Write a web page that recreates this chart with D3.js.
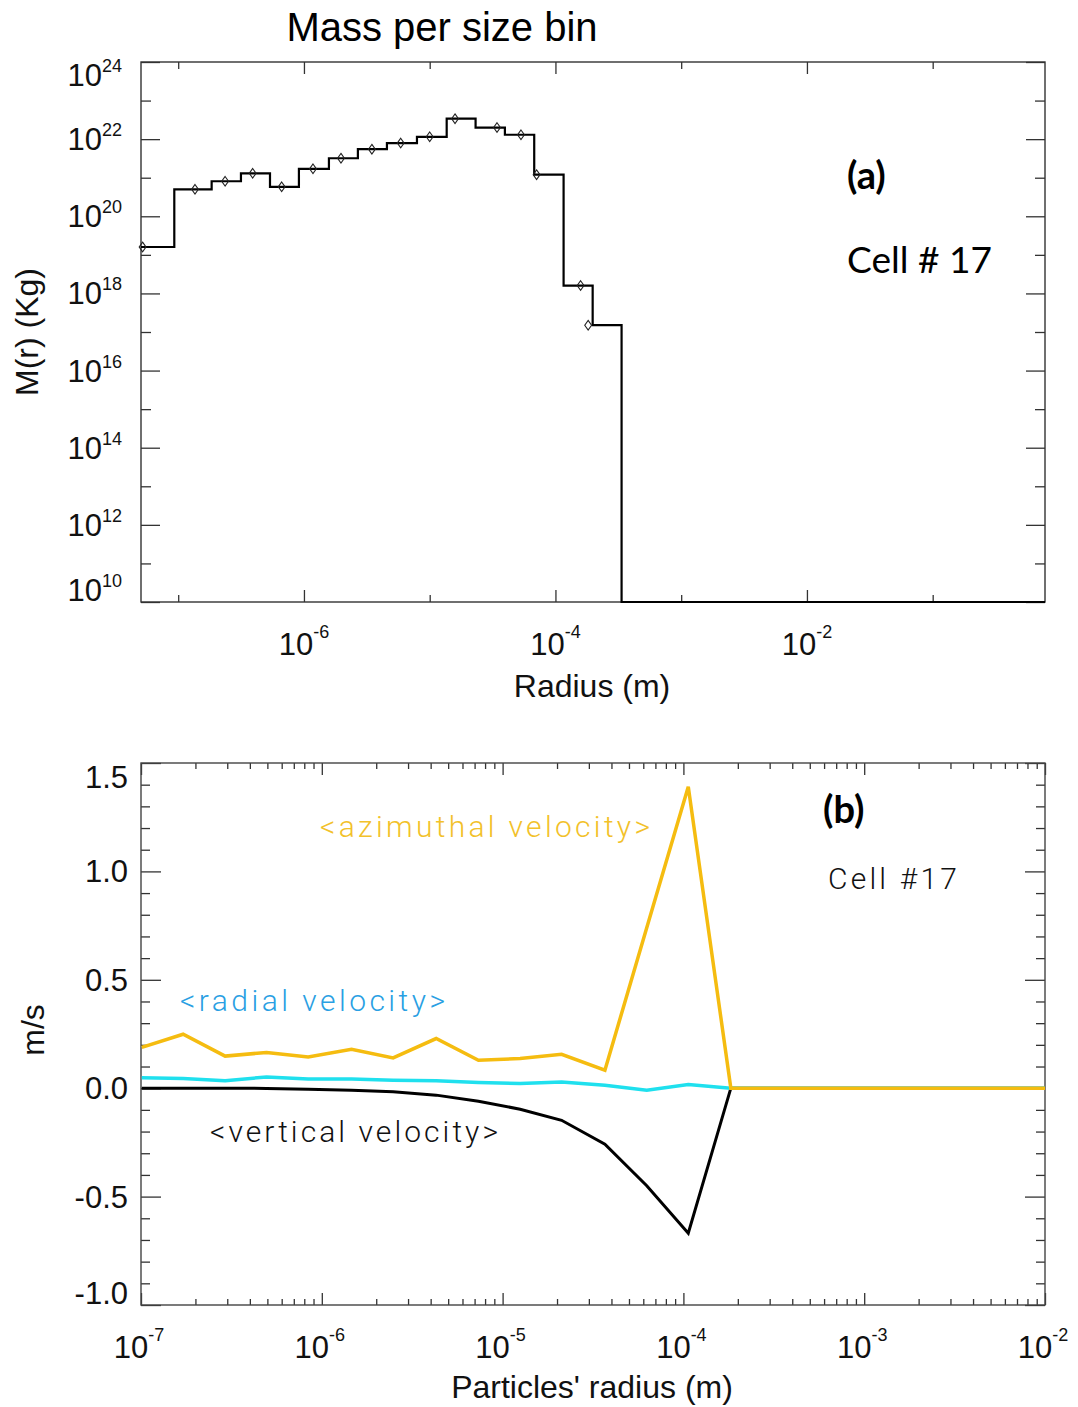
<!DOCTYPE html>
<html>
<head>
<meta charset="utf-8">
<script src="https://cdn.jsdelivr.net/npm/d3@7"></script>
<style>
  html, body { margin: 0; padding: 0; background: #fff; }
  svg { display: block; }
  .ax text { font-family: "Liberation Sans", Arial, Helvetica, sans-serif; }
</style>
</head>
<body>
<svg id="fig" width="1078" height="1407"></svg>
<script>
// ---------- panel (a): mass per size bin ----------
const massEdges = [5.06e-8, 9.31e-8, 1.845e-7, 3.155e-7, 5.37e-7, 9.12e-7, 1.58e-6, 2.685e-6,
  4.57e-6, 7.92e-6, 1.365e-5, 2.317e-5, 3.963e-5, 6.78e-5, 1.161e-4, 1.977e-4, 3.357e-4, 0.782];
const massPerBin = [1.6e19, 5.0e20, 8.1e20, 1.3e21, 5.8e20, 1.7e21, 3.2e21, 5.5e21,
  7.9e21, 1.15e22, 3.4e22, 2.0e22, 1.3e22, 1.2e21, 1.6e18, 1.5e17, 0];
const markerRadius = [5.21e-8, 1.36e-7, 2.36e-7, 3.91e-7, 6.65e-7, 1.18e-6, 1.97e-6, 3.47e-6,
  5.88e-6, 1.0e-5, 1.59e-5, 3.43e-5, 5.32e-5, 7.08e-5, 1.585e-4, 1.82e-4];
const markerMass = [1.6e19, 5.0e20, 8.1e20, 1.3e21, 5.8e20, 1.7e21, 3.2e21, 5.5e21,
  7.9e21, 1.15e22, 3.4e22, 2.0e22, 1.3e22, 1.2e21, 1.6e18, 1.5e17];
const massXTickExp = [-6, -4, -2];
const massXMinorExp = [-7, -5, -3, -1];
const massYTickExp = [10, 12, 14, 16, 18, 20, 22, 24];
const massYMinorExp = [11, 13, 15, 17, 19, 21, 23];

// ---------- panel (b): mean particle velocities ----------
const radiusGrid = [1.01e-7, 1.71e-7, 2.92e-7, 4.95e-7, 8.41e-7, 1.46e-6, 2.48e-6, 4.29e-6,
  7.35e-6, 1.25e-5, 2.12e-5, 3.68e-5, 6.27e-5, 1.064e-4, 1.83e-4, 3.11e-4, 5.28e-4, 8.99e-4,
  1.53e-3, 2.60e-3, 4.42e-3, 7.52e-3, 1.28e-2];
const azimuthalVel = [0.188, 0.249, 0.148, 0.165, 0.144, 0.179, 0.140, 0.229, 0.129, 0.137,
  0.156, 0.083, 0.74, 1.39, 0, 0, 0, 0, 0, 0, 0, 0, 0];
const radialVel = [0.048, 0.045, 0.034, 0.052, 0.042, 0.042, 0.037, 0.034, 0.026, 0.022,
  0.029, 0.014, -0.009, 0.017, 0, 0, 0, 0, 0, 0, 0, 0, 0];
const verticalVel = [0.0, 0.0, 0.0, -0.001, -0.005, -0.009, -0.016, -0.032, -0.06, -0.097,
  -0.148, -0.258, -0.45, -0.669, 0, 0, 0, 0, 0, 0, 0, 0, 0];
const velXTickExp = [-7, -6, -5, -4, -3, -2];
const velYTicks = [-1.0, -0.5, 0.0, 0.5, 1.0, 1.5];

const svg = d3.select("#fig");
const THIN_FONT = 'Roboto, "Noto Sans", "DejaVu Sans", sans-serif';
const NOTE_FONT = 'Lato, "Open Sans", "Noto Sans", sans-serif';

// ---- shared helpers ----
function tickAxis(g, axisFn, scale, values, size) {
  g.call(axisFn(scale).tickValues(values).tickSize(size).tickFormat(""))
   .call(s => s.select(".domain").remove())
   .call(s => s.selectAll("line").attr("stroke", "#333").attr("stroke-width", 1.3));
}
function powLabel(sel, base, exp, supSize, supRise) {
  sel.text(null);
  sel.append("tspan").text(base);
  sel.append("tspan").attr("dy", -supRise).attr("font-size", supSize).text(exp);
}
// plain hyphen for negative numbers, one decimal
const fmtVel = v => (v < 0 ? "-" : "") + Math.abs(v).toFixed(1);

// ================= panel (a) =================
const A = { l: 141, r: 1045, t: 62, b: 602 };
const xA = d3.scaleLog().domain([massEdges[0], massEdges[massEdges.length - 1]]).range([A.l, A.r]);
const yA = d3.scaleLog().domain([1e10, 1e24]).range([A.b, A.t]).clamp(true);
const yMass = v => yA(Math.max(v, yA.domain()[0]));

const gA = svg.append("g").attr("class", "ax");

// ticks on all four sides, pointing inward
tickAxis(gA.append("g").attr("transform", `translate(0,${A.b})`), d3.axisTop, xA, massXTickExp.map(e => 10 ** e), 12);
tickAxis(gA.append("g").attr("transform", `translate(0,${A.b})`), d3.axisTop, xA, massXMinorExp.map(e => 10 ** e), 7);
tickAxis(gA.append("g").attr("transform", `translate(0,${A.t})`), d3.axisBottom, xA, massXTickExp.map(e => 10 ** e), 12);
tickAxis(gA.append("g").attr("transform", `translate(0,${A.t})`), d3.axisBottom, xA, massXMinorExp.map(e => 10 ** e), 7);
tickAxis(gA.append("g").attr("transform", `translate(${A.l},0)`), d3.axisRight, yA, massYTickExp.map(e => 10 ** e), 19);
tickAxis(gA.append("g").attr("transform", `translate(${A.l},0)`), d3.axisRight, yA, massYMinorExp.map(e => 10 ** e), 10);
tickAxis(gA.append("g").attr("transform", `translate(${A.r},0)`), d3.axisLeft, yA, massYTickExp.map(e => 10 ** e), 19);
tickAxis(gA.append("g").attr("transform", `translate(${A.r},0)`), d3.axisLeft, yA, massYMinorExp.map(e => 10 ** e), 10);

gA.append("rect").attr("x", A.l).attr("y", A.t).attr("width", A.r - A.l).attr("height", A.b - A.t)
  .attr("fill", "none").attr("stroke", "#333").attr("stroke-width", 1.4);

// x tick labels
gA.selectAll("text.xl").data(massXTickExp).join("text").attr("class", "xl")
  .attr("x", e => xA(10 ** e)).attr("y", 655)
  .attr("text-anchor", "middle").attr("font-size", 31).attr("fill", "#111")
  .each(function (e) { powLabel(d3.select(this), "10", String(e), 18, 17); });

// y tick labels (end labels kept inside the frame height)
gA.selectAll("text.yl").data(massYTickExp).join("text").attr("class", "yl")
  .attr("x", 122)
  .attr("y", e => {
    let c = yA(10 ** e);
    if (e === 24) c += 13;
    if (e === 10) c -= 12;
    return c + 11;
  })
  .attr("text-anchor", "end").attr("font-size", 31).attr("fill", "#111")
  .each(function (e) { powLabel(d3.select(this), "10", String(e), 18, 14); });

// histogram steps
const stepPts = massPerBin.map((m, i) => [massEdges[i], m]);
stepPts.push([massEdges[massEdges.length - 1], massPerBin[massPerBin.length - 1]]);
gA.append("path").datum(stepPts)
  .attr("d", d3.line().x(d => xA(d[0])).y(d => yMass(d[1])).curve(d3.curveStepAfter))
  .attr("fill", "none").attr("stroke", "#000").attr("stroke-width", 2.2).attr("stroke-linejoin", "miter");

// diamond markers
const diamond = (w, h) => { const p = d3.path(); p.moveTo(0, -h); p.lineTo(w, 0); p.lineTo(0, h); p.lineTo(-w, 0); p.closePath(); return p.toString(); };
gA.selectAll("path.mk").data(markerRadius).join("path").attr("class", "mk")
  .attr("transform", (r, i) => `translate(${xA(r)},${yMass(markerMass[i])})`)
  .attr("d", diamond(3.4, 4.8))
  .attr("fill", "none").attr("stroke", "#222").attr("stroke-width", 1.1);

// titles
gA.append("text").attr("x", 442).attr("y", 41).attr("text-anchor", "middle")
  .attr("font-size", 40).attr("fill", "#000").text("Mass per size bin");
gA.append("text").attr("x", 592).attr("y", 697).attr("text-anchor", "middle")
  .attr("font-size", 32).attr("fill", "#111").text("Radius (m)");
gA.append("text").attr("transform", "translate(38,332) rotate(-90)").attr("text-anchor", "middle")
  .attr("font-size", 32).attr("fill", "#111").text("M(r) (Kg)");

// annotations
svg.append("text").attr("x", 847).attr("y", 189).attr("font-family", NOTE_FONT)
  .attr("font-weight", 700).attr("font-size", 38).text("(a)");
svg.append("text").attr("x", 847).attr("y", 273).attr("font-family", NOTE_FONT)
  .attr("font-size", 36).attr("textLength", 145).attr("lengthAdjust", "spacingAndGlyphs").text("Cell # 17");

// ================= panel (b) =================
const B = { l: 141, r: 1045, t: 763, b: 1305 };
const xB = d3.scaleLog().domain([1e-7, 1e-2]).range([B.l, B.r]);
const yB = d3.scaleLinear().domain([-1.0, 1.5]).range([B.b, B.t]);

const gB = svg.append("g").attr("class", "ax");

const decades = velXTickExp.map(e => 10 ** e);
const minorX = [];
velXTickExp.slice(0, -1).forEach(e => { for (let k = 2; k <= 9; k++) minorX.push(k * 10 ** e); });
const minorY = d3.range(-10, 16).filter(v => v % 5 !== 0).map(v => v / 10);

tickAxis(gB.append("g").attr("transform", `translate(0,${B.b})`), d3.axisTop, xB, decades, 12);
tickAxis(gB.append("g").attr("transform", `translate(0,${B.b})`), d3.axisTop, xB, minorX, 6);
tickAxis(gB.append("g").attr("transform", `translate(0,${B.t})`), d3.axisBottom, xB, decades, 12);
tickAxis(gB.append("g").attr("transform", `translate(0,${B.t})`), d3.axisBottom, xB, minorX, 6);
tickAxis(gB.append("g").attr("transform", `translate(${B.l},0)`), d3.axisRight, yB, velYTicks, 20);
tickAxis(gB.append("g").attr("transform", `translate(${B.l},0)`), d3.axisRight, yB, minorY, 9);
tickAxis(gB.append("g").attr("transform", `translate(${B.r},0)`), d3.axisLeft, yB, velYTicks, 20);
tickAxis(gB.append("g").attr("transform", `translate(${B.r},0)`), d3.axisLeft, yB, minorY, 9);

gB.append("rect").attr("x", B.l).attr("y", B.t).attr("width", B.r - B.l).attr("height", B.b - B.t)
  .attr("fill", "none").attr("stroke", "#444").attr("stroke-width", 1.4);

gB.selectAll("text.xl").data(velXTickExp).join("text").attr("class", "xl")
  .attr("x", e => xB(10 ** e) - 2).attr("y", 1358)
  .attr("text-anchor", "middle").attr("font-size", 31).attr("fill", "#111")
  .each(function (e) { powLabel(d3.select(this), "10", String(e), 18, 17); });

gB.selectAll("text.yl").data(velYTicks).join("text").attr("class", "yl")
  .attr("x", 128)
  .attr("y", v => {
    let c = yB(v);
    if (v === 1.5) c += 14;
    if (v === -1.0) c -= 12;
    return c + 11;
  })
  .attr("text-anchor", "end").attr("font-size", 31).attr("fill", "#111")
  .text(fmtVel);

gB.append("text").attr("x", 592).attr("y", 1398).attr("text-anchor", "middle")
  .attr("font-size", 32).attr("fill", "#111").text("Particles' radius (m)");
gB.append("text").attr("transform", "translate(44,1030) rotate(-90)").attr("text-anchor", "middle")
  .attr("font-size", 32).attr("fill", "#111").text("m/s");

// curves, clipped to the frame
svg.append("clipPath").attr("id", "clipB").append("rect")
  .attr("x", B.l).attr("y", B.t).attr("width", B.r - B.l).attr("height", B.b - B.t);
const lineB = d3.line().x((d, i) => xB(radiusGrid[i])).y(d => yB(d));
const curves = svg.append("g").attr("clip-path", "url(#clipB)");
curves.append("path").datum(verticalVel).attr("d", lineB)
  .attr("fill", "none").attr("stroke", "#000").attr("stroke-width", 3);
curves.append("path").datum(radialVel).attr("d", lineB)
  .attr("fill", "none").attr("stroke", "#1fe0ee").attr("stroke-width", 3.5);
curves.append("path").datum(azimuthalVel).attr("d", lineB)
  .attr("fill", "none").attr("stroke", "#f5bc10").attr("stroke-width", 3.5);

// curve labels and annotations
const labB = svg.append("g").attr("font-family", THIN_FONT).attr("font-weight", 300);
labB.append("text").attr("x", 320).attr("y", 837).attr("font-size", 30).attr("fill", "#f2c12a")
  .attr("textLength", 330).attr("lengthAdjust", "spacing").text("<azimuthal velocity>");
labB.append("text").attr("x", 180).attr("y", 1011).attr("font-size", 30).attr("fill", "#2a9fe3")
  .attr("textLength", 265).attr("lengthAdjust", "spacing").text("<radial velocity>");
labB.append("text").attr("x", 210).attr("y", 1142).attr("font-size", 30).attr("fill", "#111")
  .attr("textLength", 288).attr("lengthAdjust", "spacing").text("<vertical velocity>");
labB.append("text").attr("x", 828).attr("y", 889).attr("font-size", 30).attr("fill", "#111")
  .attr("textLength", 129).attr("lengthAdjust", "spacing").text("Cell  #17");
svg.append("text").attr("x", 823).attr("y", 823).attr("font-family", NOTE_FONT)
  .attr("font-weight", 700).attr("font-size", 38).text("(b)");
</script>
</body>
</html>
